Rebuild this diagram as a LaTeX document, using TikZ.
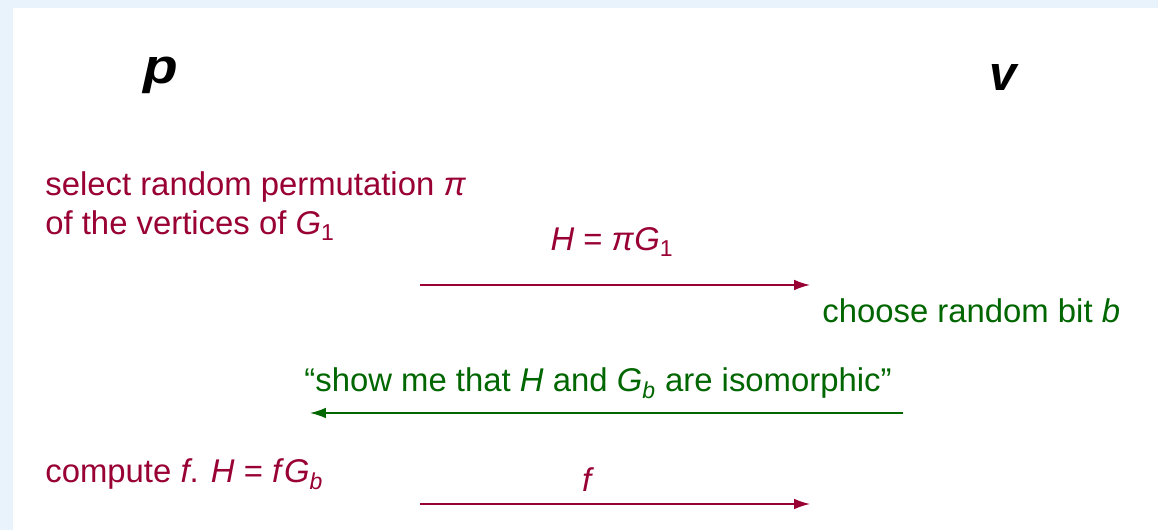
\documentclass[tikz,border=0pt]{standalone}
\usepackage{fontspec}
\setmainfont{Liberation Sans}
\usepackage{tikz}
\usetikzlibrary{arrows.meta,calc,positioning}
\definecolor{maroon}{RGB}{153,0,51}
\definecolor{dkgreen}{RGB}{0,102,0}
\definecolor{paleblue}{RGB}{232,243,252}
\newcommand{\vi}[1]{\textit{#1}}
\begin{document}
\begin{tikzpicture}[every node/.style={inner sep=0pt,font=\fontsize{18.7}{22.7}\selectfont},
  party/.style={font=\fontsize{28}{32}\selectfont\bfseries\itshape},
  msg/.style={line width=0.85pt,-{Latex[length=9pt,width=6pt]}}]
% --- sfondo ---
\useasboundingbox (0,0) rectangle (23.16,10.6);
\fill[paleblue] (0,0) rectangle (23.16,10.6);
\fill[white] (0.26,0) rectangle (23.16,10.44);
% --- le due parti ---
\node[party,anchor=base,xscale=1.15] (p) at (3.22,8.92) {p};
\node[party,anchor=base] (v) at (20.06,8.78) {v};
% --- passo 1 ---
\node[maroon,anchor=base west,align=left] (sel) at (0.9,5.9) {select random permutation \vi{π}\\of the vertices of \vi{G}\textsubscript{1}};
\node[maroon,anchor=base] (lab1) at (12.24,5.58) {\vi{H} = \vi{π}\vi{G}\textsubscript{1}};
\coordinate (a1) at (8.4,4.9);
\coordinate (b1) at (16.2,4.9);
\draw[msg,maroon] (a1) -- (b1);
% --- passo 2 ---
\node[dkgreen,anchor=base west] (bit) at (16.44,4.14) {choose random bit \vi{b}};
\node[dkgreen,anchor=base] (lab2) at (11.96,2.76) {“show me that \vi{H} and \vi{G}\textsubscript{\vi{b}} are isomorphic”};
\coordinate (a2) at (18.06,2.34);
\coordinate (b2) at (6.2,2.34);
\draw[msg,dkgreen] (a2) -- (b2);
% --- passo 3 ---
\node[maroon,anchor=base west] (comp) at (0.9,0.94) {compute \vi{f}. \vi{H} = \vi{f}\vi{G}\textsubscript{\vi{b}}};
\node[maroon,anchor=base] (lab3) at (11.76,0.76) {\vi{f}};
\coordinate (a3) at (8.4,0.52);
\coordinate (b3) at (16.2,0.52);
\draw[msg,maroon] (a3) -- (b3);
\end{tikzpicture}
\end{document}
